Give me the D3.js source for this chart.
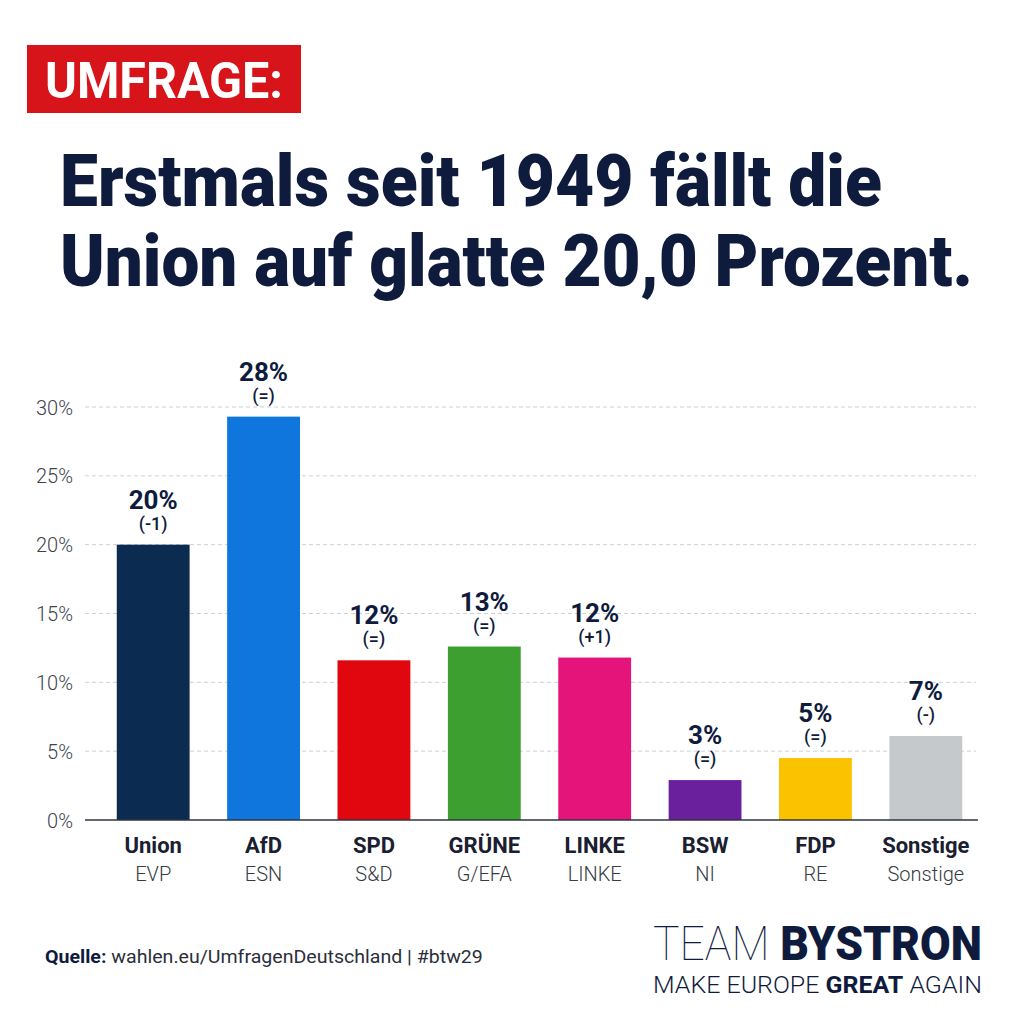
<!DOCTYPE html>
<html>
<head>
<meta charset="utf-8">
<script src="https://cdn.jsdelivr.net/npm/d3@7/dist/d3.min.js"></script>
<style>
  html, body { margin: 0; padding: 0; background: #ffffff; }
  svg { display: block; }
</style>
</head>
<body>
<svg id="chart" width="1024" height="1024"></svg>
<script>
// ---- data ----
const parties = ["Union", "AfD", "SPD", "GRÜNE", "LINKE", "BSW", "FDP", "Sonstige"];
const groups  = ["EVP", "ESN", "S&D", "G/EFA", "LINKE", "NI", "RE", "Sonstige"];
const values  = [20.0, 29.3, 11.6, 12.6, 11.8, 2.9, 4.5, 6.1];
const valueLabels  = ["20%", "28%", "12%", "13%", "12%", "3%", "5%", "7%"];
const changeLabels = ["(-1)", "(=)", "(=)", "(=)", "(+1)", "(=)", "(=)", "(-)"];
const colors  = ["#0c2b50", "#0f76de", "#e1070f", "#3c9f2f", "#e4147a", "#6a1f9c", "#fbc200", "#c6c9cc"];
const yTicks  = [0, 5, 10, 15, 20, 25, 30];

const svg = d3.select("#chart");
const FONT = "Roboto, 'Noto Sans', sans-serif";
const NAVY = "#0f1b3d";

svg.append("rect").attr("width", 1024).attr("height", 1024).attr("fill", "#ffffff");

// fit a text horizontally to a target width by scaling its group
function fitText(g, targetWidth) {
  const node = g.select("text").node();
  const w = node.getComputedTextLength();
  const tr = g.attr("data-t");
  g.attr("transform", tr + " scale(" + (targetWidth / w) + ",1)");
}
function addFitted(xPos, yPos, width, styler) {
  const g = svg.append("g").attr("data-t", "translate(" + xPos + "," + yPos + ")")
    .attr("transform", "translate(" + xPos + "," + yPos + ")");
  const t = g.append("text").attr("x", 0).attr("y", 0).attr("font-family", FONT);
  styler(t);
  fitText(g, width);
  return g;
}

// ---- header ----
svg.append("rect").attr("x", 27).attr("y", 45).attr("width", 274).attr("height", 68).attr("fill", "#d7141a");
addFitted(45, 98, 238, t => t.attr("font-weight", 700).attr("font-size", 50).attr("fill", "#ffffff").text("UMFRAGE:"));

addFitted(60, 206, 822, t => t.attr("font-weight", 900).attr("font-size", 73).attr("fill", NAVY)
  .text("Erstmals seit 1949 fällt die"));
addFitted(60, 286, 913, t => t.attr("font-weight", 900).attr("font-size", 73).attr("fill", NAVY)
  .text("Union auf glatte 20,0 Prozent."));

// ---- scales ----
const x = d3.scaleBand().domain(parties).range([98, 981]).paddingInner(0.34).paddingOuter(0.17);
const y = d3.scaleLinear().domain([0, 30]).range([820, 407]);

// gridlines
svg.append("g").selectAll("line").data(yTicks.filter(t => t > 0)).join("line")
  .attr("x1", 85).attr("x2", 976)
  .attr("y1", d => y(d)).attr("y2", d => y(d))
  .attr("stroke", "#cdd0d5").attr("stroke-width", 1).attr("stroke-dasharray", "4,3");

// y axis labels
const yAxis = d3.axisLeft(y).tickValues(yTicks).tickFormat(d => d + "%").tickSize(0).tickPadding(0);
const ya = svg.append("g").attr("transform", "translate(73,0)").call(yAxis);
ya.select(".domain").remove();
ya.selectAll("text").attr("font-family", FONT).attr("font-size", 20).attr("font-weight", 300)
  .attr("fill", "#3e434c").attr("dy", "0.35em");

// bars
svg.append("g").selectAll("rect").data(parties).join("rect")
  .attr("x", d => x(d)).attr("width", x.bandwidth())
  .attr("y", (d, i) => y(values[i])).attr("height", (d, i) => y(0) - y(values[i]))
  .attr("fill", (d, i) => colors[i]);

// baseline axis
svg.append("line").attr("x1", 85).attr("x2", 978).attr("y1", y(0)).attr("y2", y(0))
  .attr("stroke", "#2f3542").attr("stroke-width", 1.6);

// value labels
svg.append("g").selectAll("text").data(parties).join("text")
  .attr("x", d => x(d) + x.bandwidth() / 2).attr("y", (d, i) => y(values[i]) - 36)
  .attr("text-anchor", "middle").attr("font-family", FONT).attr("font-weight", 700)
  .attr("font-size", 26).attr("fill", NAVY)
  .text((d, i) => valueLabels[i]);
svg.append("g").selectAll("text").data(parties).join("text")
  .attr("x", d => x(d) + x.bandwidth() / 2).attr("y", (d, i) => y(values[i]) - 15)
  .attr("text-anchor", "middle").attr("font-family", FONT).attr("font-weight", 500)
  .attr("font-size", 18).attr("fill", NAVY)
  .text((d, i) => changeLabels[i]);

// category labels
const xa = svg.append("g");
xa.selectAll("text.name").data(parties).join("text").attr("class", "name")
  .attr("x", d => x(d) + x.bandwidth() / 2).attr("y", 853)
  .attr("text-anchor", "middle").attr("font-family", FONT).attr("font-weight", 700)
  .attr("font-size", 22).attr("fill", "#1a2030")
  .text(d => d);
xa.selectAll("text.grp").data(parties).join("text").attr("class", "grp")
  .attr("x", d => x(d) + x.bandwidth() / 2).attr("y", 881)
  .attr("text-anchor", "middle").attr("font-family", FONT).attr("font-weight", 300)
  .attr("font-size", 20).attr("fill", "#363b45")
  .text((d, i) => groups[i]);

// ---- footer ----
addFitted(45, 963, 438, t => {
  t.attr("font-size", 18).attr("fill", "#2a2f3a");
  t.append("tspan").attr("font-weight", 700).attr("fill", NAVY).text("Quelle:");
  t.append("tspan").attr("font-weight", 400).text(" wahlen.eu/UmfragenDeutschland | #btw29");
});

addFitted(653, 960, 329, t => {
  t.attr("font-size", 49).attr("fill", NAVY);
  t.append("tspan").attr("font-weight", 100).text("TEAM ");
  t.append("tspan").attr("font-weight", 900).text("BYSTRON");
});

addFitted(653, 993, 329, t => {
  t.attr("font-size", 23).attr("fill", NAVY);
  t.append("tspan").attr("font-weight", 300).text("MAKE EUROPE ");
  t.append("tspan").attr("font-weight", 700).text("GREAT");
  t.append("tspan").attr("font-weight", 300).text(" AGAIN");
});
</script>
</body>
</html>
